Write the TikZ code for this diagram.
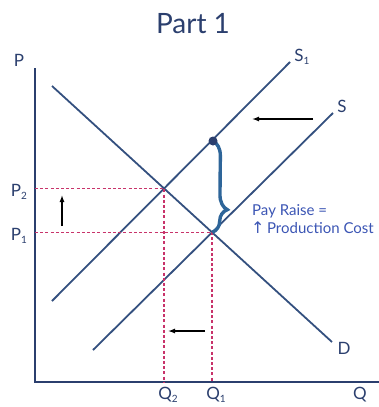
\documentclass[tikz,border=0pt]{standalone}
\usepackage{fontspec}
\setmainfont{Lato}
\newfontfamily\arrowfont{DejaVu Sans}
\usepackage{xcolor}
\usetikzlibrary{arrows.meta,decorations.pathreplacing}

\definecolor{navy}{HTML}{2B3F6E}
\definecolor{curveblue}{HTML}{34507F}
\definecolor{guidepink}{HTML}{C8336A}
\definecolor{bracecol}{HTML}{2E6599}
\definecolor{labelblue}{HTML}{3B55B4}

\newcommand{\lowsub}[1]{\raisebox{-0.4ex}{\fontsize{10}{10}\selectfont #1}}

\begin{document}
\begin{tikzpicture}[
x=1pt, y=-1pt,
axis/.style={draw=navy, line width=2.6pt},
curve/.style={draw=curveblue, line width=1.8pt},
guide/.style={draw=guidepink, line width=1.3pt, dash pattern=on 3pt off 2.2pt},
shiftarrow/.style={-{Latex[length=7pt,width=5pt]}, line width=1.3pt},
axislabel/.style={text=navy, font=\fontsize{17}{19}\selectfont, inner sep=0pt},
raisetext/.style={anchor=base west, inner sep=0pt, text=labelblue, font=\fontsize{15}{17}\selectfont}
]
\useasboundingbox (0,0) rectangle (379,407);

% title
\node[text=navy, font=\fontsize{28}{32}\selectfont] (title) at (193,24) {Part 1};

% axes
\coordinate (origin) at (35,382);
\coordinate (ptop) at (35,68);
\coordinate (qend) at (380,382);
\draw[axis] (ptop) -- (origin) -- (qend);

% demand and the two supply curves
\coordinate (d0) at (52,86);
\coordinate (d1) at (332,342);
\coordinate (s0) at (93,350);
\coordinate (s1) at (333,113);
\coordinate (sa0) at (52,301);
\coordinate (sa1) at (290,62);
\draw[curve] (d0) -- (d1);
\draw[curve] (s0) -- (s1);
\draw[curve] (sa0) -- (sa1);

\coordinate (e1) at (intersection of d0--d1 and s0--s1);
\coordinate (e2) at (intersection of d0--d1 and sa0--sa1);

% guide lines to the axes
\draw[guide] (e2 -| origin) -- (e2) -- (e2 |- origin);
\draw[guide] (e1 -| origin) -- (e1) -- (e1 |- origin);

% axis labels
\node[axislabel] (plabel) at (19,60) {P};
\node[axislabel] (p2) at (19,192) {P\lowsub{2}};
\node[axislabel] (p1) at (19,236) {P\lowsub{1}};
\node[axislabel] (q2) at (168,395) {Q\lowsub{2}};
\node[axislabel] (q1) at (216,395) {Q\lowsub{1}};
\node[axislabel] (qlabel) at (360,395) {Q};

% curve labels
\node[axislabel] (s1label) at (302,57) {S\lowsub{1}};
\node[axislabel] (slabel) at (342,106) {S};
\node[axislabel] (dlabel) at (344,348) {D};

% shifts
\coordinate (pup0) at (62,226);
\coordinate (pup1) at (62,195);
\draw[shiftarrow] (pup0) -- (pup1);
\coordinate (qleft0) at (205,331);
\coordinate (qleft1) at (168,331);
\draw[shiftarrow] (qleft0) -- (qleft1);
\coordinate (sleft0) at (313,119);
\coordinate (sleft1) at (252,119);
\draw[shiftarrow] (sleft0) -- (sleft1);

% pay raise brace
\coordinate (raisetop) at (213,141);
\draw[bracecol, line width=3.4pt, decorate, decoration={brace, amplitude=15pt, aspect=0.75}] (raisetop) -- (e1);
\node[circle, fill=navy, inner sep=0pt, minimum size=9pt] (raisedot) at (raisetop) {};
\node[raisetext] (raise) at (252,215) {Pay Raise =};
\node[raisetext] (cost) at (251,233) {{\arrowfont\fontsize{16}{17}\selectfont ↑}\,Production Cost};
\end{tikzpicture}
\end{document}
